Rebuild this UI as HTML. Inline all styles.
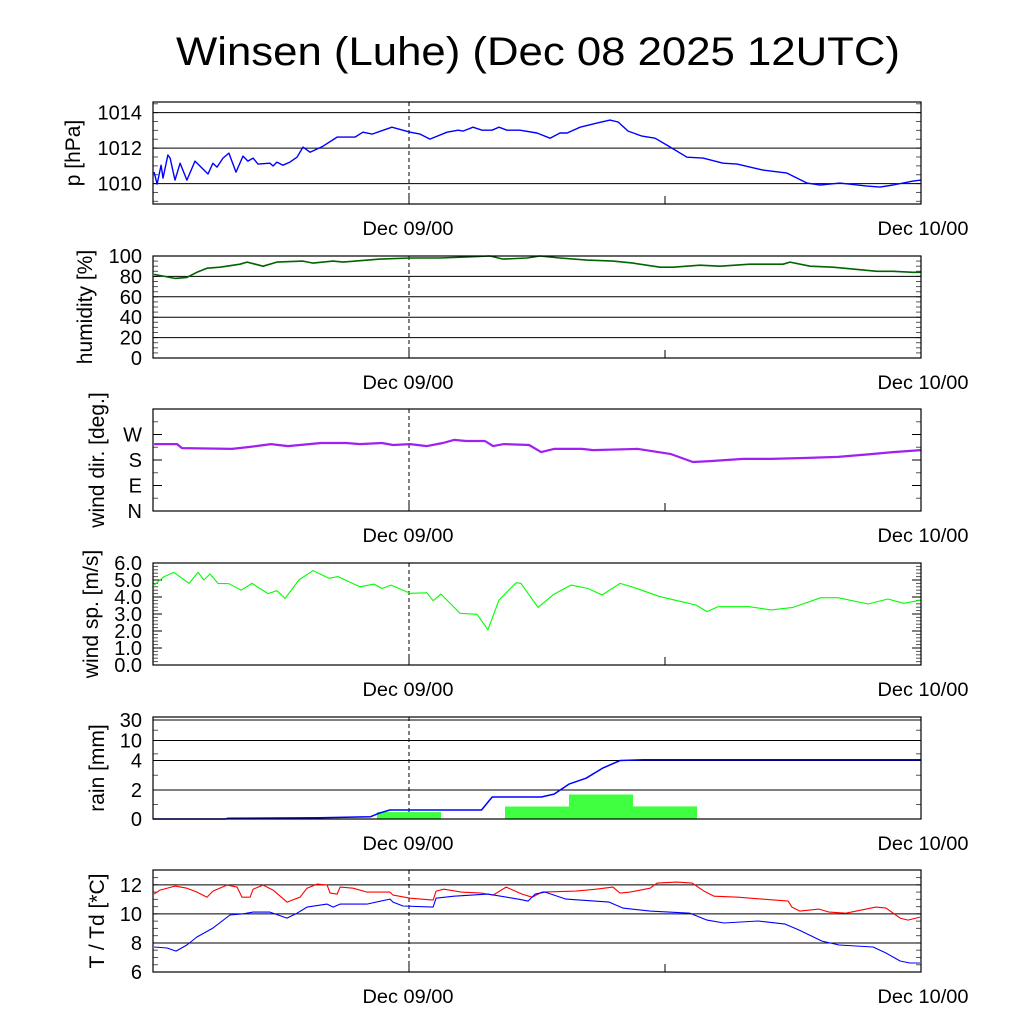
<!DOCTYPE html>
<html><head><meta charset="utf-8"><style>
html,body{margin:0;padding:0;background:#fff;}
svg text{font-family:"Liberation Sans",sans-serif;}
</style></head><body>
<svg id="chart" xmlns="http://www.w3.org/2000/svg" width="1024" height="1024" viewBox="0 0 1024 1024">
<rect width="1024" height="1024" fill="#fff"/>
<text x="538" y="65" font-size="40" text-anchor="middle" textLength="724" lengthAdjust="spacingAndGlyphs">Winsen (Luhe) (Dec 08 2025 12UTC)</text>
</svg>
<script>
// ---- data ----
const xTickLabels = ["Dec 09/00", "Dec 10/00"];
const xTickHours = [12, 36];
const presT = [0.05,0.19,0.38,0.47,0.7,0.8,1.03,1.27,1.59,1.97,2.58,2.81,3.0,3.28,3.56,3.89,4.22,4.45,4.69,4.92,5.48,5.63,5.81,6.09,6.42,6.75,7.03,7.36,7.97,8.63,9.47,9.84,10.27,11.2,12.05,12.52,12.98,13.78,14.3,14.53,15.0,15.42,15.89,16.22,16.59,17.2,18.0,18.61,19.08,19.41,20.02,20.81,21.42,21.8,22.27,22.92,23.53,24.09,25.03,25.78,26.72,27.38,27.98,28.59,29.72,30.66,31.27,32.2,33.47,34.08,34.69,35.63,36];
const presV = [1010.65,1009.97,1011.04,1010.31,1011.61,1011.44,1010.2,1011.15,1010.2,1011.27,1010.54,1011.15,1010.93,1011.44,1011.72,1010.65,1011.55,1011.27,1011.44,1011.1,1011.15,1010.99,1011.21,1011.04,1011.21,1011.49,1012.06,1011.77,1012.11,1012.62,1012.62,1012.9,1012.79,1013.18,1012.9,1012.79,1012.51,1012.9,1013.01,1012.96,1013.18,1013.01,1013.01,1013.18,1013.01,1013.01,1012.85,1012.56,1012.85,1012.85,1013.18,1013.41,1013.58,1013.47,1012.96,1012.68,1012.56,1012.17,1011.49,1011.44,1011.15,1011.1,1010.93,1010.76,1010.59,1010.03,1009.92,1010.03,1009.86,1009.8,1009.92,1010.14,1010.2];
const humT = [0.05,1.03,1.59,2.06,2.53,3.14,4.08,4.41,5.16,5.81,7.03,7.5,8.44,8.91,10.64,12.05,13.45,14.72,15.8,16.41,17.53,18.14,19.08,20.34,21.56,22.5,23.77,24.38,25.64,26.58,27.98,29.53,29.86,30.8,31.88,33.94,34.69,35.63,36];
const humV = [82,78,79,84,88,89,92,94,90,94,95,93,95,94,97,98,98,99,100,97,98,100,98,96,95,93,89,89,91,90,92,92,94,90,89,85,85,84,84];
const dirT = [0.05,1.13,1.36,3.7,4.5,5.53,6.33,7.88,9.05,9.7,10.73,11.25,12.05,12.84,13.59,14.11,14.67,15.56,15.94,16.45,17.63,18.19,18.8,20.11,20.63,22.73,24.28,25.31,26.11,27.66,28.97,30.52,32.11,33.66,34.69,36];
const dirV = [236,236,222,219,226,236,229,240,240,236,240,233,236,229,240,251,247,247,229,236,233,208,219,219,215,219,201,173,176,184,184,187,191,201,208,215];
const spdT = [0.05,0.52,0.98,1.69,2.11,2.39,2.67,3.05,3.56,4.13,4.64,5.39,5.81,6.19,6.84,7.5,8.25,8.67,9.7,10.36,10.73,11.16,12.05,12.84,13.13,13.5,14.39,15.19,15.7,16.22,17.02,17.25,18.05,18.8,19.59,20.39,21.05,21.89,22.45,23.77,24.8,25.45,25.97,26.48,27.94,28.97,30.0,31.31,32.11,33.52,34.45,35.2,36];
const spdV = [4.7,5.2,5.45,4.8,5.45,5.0,5.35,4.8,4.78,4.4,4.8,4.2,4.37,3.92,5.0,5.55,5.1,5.2,4.6,4.76,4.5,4.7,4.22,4.25,3.78,4.17,3.04,2.98,2.07,3.82,4.84,4.8,3.39,4.17,4.7,4.5,4.12,4.8,4.6,4.02,3.72,3.53,3.14,3.43,3.43,3.24,3.39,3.96,3.96,3.59,3.88,3.63,3.82];
const rainBarHours = [12, 18, 21, 24];
const rainBarV = [0.48, 0.86, 1.69, 0.87];
const rainSumT = [0, 3.4, 3.5, 7.8, 10.2, 10.6, 11.1, 15.4, 15.9, 18.2, 18.8, 19.5, 20.3, 21.1, 21.9, 23, 36];
const rainSumV = [0, 0, 0.05, 0.08, 0.16, 0.4, 0.62, 0.62, 1.52, 1.52, 1.72, 2.4, 2.8, 3.5, 4.0, 4.2, 4.2];
const tempT = [0.05,0.33,1.03,1.59,2.06,2.53,2.81,3.47,3.94,4.17,4.55,4.69,5.16,5.63,6.28,6.89,7.22,7.69,8.16,8.3,8.63,8.77,9.38,10.03,11.11,11.25,12.05,13.13,13.27,13.64,14.44,15.38,15.94,16.55,17.3,17.77,18.23,19.83,20.77,21.56,21.89,22.36,23.3,23.63,24.56,25.27,25.83,26.3,27.42,29.77,29.95,30.33,31.22,31.69,32.48,33.89,34.36,35.02,35.39,35.95];
const tempV = [11.36,11.64,11.91,11.77,11.5,11.15,11.57,11.98,11.84,11.15,11.15,11.7,11.98,11.64,10.81,11.15,11.77,12.05,11.98,11.43,11.36,11.84,11.77,11.5,11.5,11.29,11.08,10.95,11.57,11.7,11.5,11.43,11.29,11.84,11.36,11.15,11.5,11.57,11.7,11.84,11.43,11.5,11.77,12.12,12.19,12.12,11.57,11.22,11.15,10.88,10.47,10.19,10.33,10.12,10.05,10.47,10.4,9.71,9.57,9.78];
const dewT = [0.05,0.66,1.08,1.59,2.06,2.81,3.61,4.17,4.69,5.48,6.28,6.75,7.22,8.16,8.44,8.77,10.03,11.11,11.25,11.72,13.13,13.27,14.11,15.7,17.11,17.58,17.91,18.38,19.36,21.38,22.03,23.3,25.17,25.97,26.77,28.36,29.63,30.28,31.36,32.16,33.75,34.36,35.02,35.48,35.95];
const dewV = [7.72,7.65,7.44,7.86,8.41,9.02,9.92,9.99,10.12,10.12,9.71,10.05,10.47,10.67,10.47,10.67,10.67,11.02,10.81,10.54,10.47,11.08,11.22,11.36,11.02,10.88,11.36,11.5,11.02,10.81,10.4,10.19,10.05,9.57,9.37,9.51,9.3,8.89,8.13,7.86,7.72,7.31,6.76,6.62,6.62];

// ---- layout ----
const NS = "http://www.w3.org/2000/svg";
const svg = document.getElementById("chart");
const X0 = 153, X1 = 921, H0 = 0, H1 = 36, PH = 102;
function xs(h){ return X0 + (h - H0) / (H1 - H0) * (X1 - X0); }
function mk(tag, attrs, parent){
  const e = document.createElementNS(NS, tag);
  for (const k in attrs) e.setAttribute(k, attrs[k]);
  (parent || svg).appendChild(e);
  return e;
}
function rainMap(v){
  const vs = [0, 2, 4, 10, 30, 40], ps = [0, 29, 58.5, 78.5, 99, 103];
  for (let i = 1; i < vs.length; i++) if (v <= vs[i]) return ps[i-1] + (v - vs[i-1]) / (vs[i] - vs[i-1]) * (ps[i] - ps[i-1]);
  return 103;
}
function panel(name, top, cfg){
  const g = mk("g", {});
  
  
  const bot = top + PH;
  const ys = cfg.map ? (v => bot - cfg.map(v)) : (v => bot - (v - cfg.min) / (cfg.max - cfg.min) * PH);
  (cfg.minor || []).forEach(v => {
    const y = ys(v);
    mk("line", {x1:X0, x2:X0+5, y1:y, y2:y, stroke:"#555", "stroke-width":1}, g);
    mk("line", {x1:X1-5, x2:X1, y1:y, y2:y, stroke:"#555", "stroke-width":1}, g);
  });
  cfg.ticks.forEach((v, i) => {
    const y = ys(v);
    if (cfg.grid) {
      const gl = mk("line", {x1:X0, x2:X1, y1:y, y2:y, stroke:"#000", "stroke-width":1}, g);
      
      
    } else {
      mk("line", {x1:X0, x2:X0+9, y1:y, y2:y, stroke:"#000", "stroke-width":1}, g);
      mk("line", {x1:X1-9, x2:X1, y1:y, y2:y, stroke:"#000", "stroke-width":1}, g);
    }
    const t = mk("text", {x:142, y:y+7, "font-size":20, "text-anchor":"end"}, g);
    
    
    t.textContent = cfg.labels[i];
  });
  const cy = top + PH/2;
  const at = mk("text", {x:0, y:0, "font-size":21, "text-anchor":"middle", transform:`translate(${cfg.titleX},${cy}) rotate(-90)`}, g);
  
  
  at.textContent = cfg.title;
  mk("line", {x1:xs(12), x2:xs(12), y1:top, y2:bot, stroke:"#000", "stroke-width":1, "stroke-dasharray":"4,3"}, g);
  mk("line", {x1:xs(12), x2:xs(12), y1:bot-8, y2:bot, stroke:"#000", "stroke-width":1}, g);
  mk("line", {x1:xs(24), x2:xs(24), y1:bot-8, y2:bot, stroke:"#000", "stroke-width":1}, g);
  xTickLabels.forEach((lab, i) => {
    const t = mk("text", {x:xs(xTickHours[i]) + (i ? 2 : -1), y:bot+31, "font-size":19, "text-anchor":"middle", textLength:91, lengthAdjust:"spacingAndGlyphs"}, g);
    
    
    t.textContent = lab;
  });
  g._ys = ys; g._top = top; g._bot = bot;
  return g;
}
function frame(g){
  const r = mk("rect", {x:X0, y:g._top, width:X1-X0, height:PH, fill:"none", stroke:"#000", "stroke-width":1.2}, g);
  
  
}
function line(g, T, V, color, name, w){
  const d = T.map((t, i) => (i ? "L" : "M") + xs(t).toFixed(1) + "," + g._ys(V[i]).toFixed(1)).join(" ");
  const p = mk("path", {d:d, fill:"none", stroke:color, "stroke-width":w || 1.3, "stroke-linejoin":"round"}, g);
  
  
}
function range(a, b, s){ const r = []; for (let v = a; v <= b + 1e-9; v += s) r.push(+v.toFixed(3)); return r; }

const gP = panel("pressure", 102, {min:1008.85, max:1014.6, ticks:[1010,1012,1014], labels:["1010","1012","1014"], grid:true, minor:range(1009,1014.5,0.5), title:"p [hPa]", titleX:80});
line(gP, presT, presV, "#0000ff", "pressure-line", 1.4);
frame(gP);
const gH = panel("humidity", 256, {min:0, max:100, ticks:[0,20,40,60,80,100], labels:["0","20","40","60","80","100"], grid:true, minor:range(5,95,5), title:"humidity [%]", titleX:92});
line(gH, humT, humV, "#006400", "humidity-line", 1.6);
frame(gH);
const gD = panel("wind-dir", 409, {min:0, max:360, ticks:[0,90,180,270], labels:["N","E","S","W"], grid:false, minor:[45,135,225,315], title:"wind dir. [deg.]", titleX:104});
line(gD, dirT, dirV, "#a020f0", "wind-direction-line", 2.2);
frame(gD);
const gS = panel("wind-speed", 563, {min:0, max:6, ticks:[0,1,2,3,4,5,6], labels:["0.0","1.0","2.0","3.0","4.0","5.0","6.0"], grid:false, minor:range(0.2,5.8,0.2), title:"wind sp. [m/s]", titleX:98});
line(gS, spdT, spdV, "#00ff00", "wind-speed-line", 1.1);
frame(gS);
const gR = panel("rain", 717, {map:rainMap, ticks:[0,2,4,10,30], labels:["0","2","4","10","30"], grid:true, minor:[1,3,6,20], title:"rain [mm]", titleX:104});
rainBarHours.forEach((h, i) => {
  const y = gR._ys(rainBarV[i]);
  const b = mk("rect", {x:xs(h-1.5), y:y, width:xs(h+1.5)-xs(h-1.5), height:gR._bot - y, fill:"#40ff40"}, gR);
  
  
});
line(gR, rainSumT, rainSumV, "#0000ff", "rain-cumulative-line", 1.5);
frame(gR);
const gT = panel("temperature", 870, {min:6, max:13.02, ticks:[6,8,10,12], labels:["6","8","10","12"], grid:true, minor:range(6.5,12.5,0.5), title:"T / Td [*C]", titleX:104});
line(gT, tempT, tempV, "#ff0000", "temperature-line", 1.1);
line(gT, dewT, dewV, "#0000ff", "dewpoint-line", 1.1);
frame(gT);
</script>
</body></html>
